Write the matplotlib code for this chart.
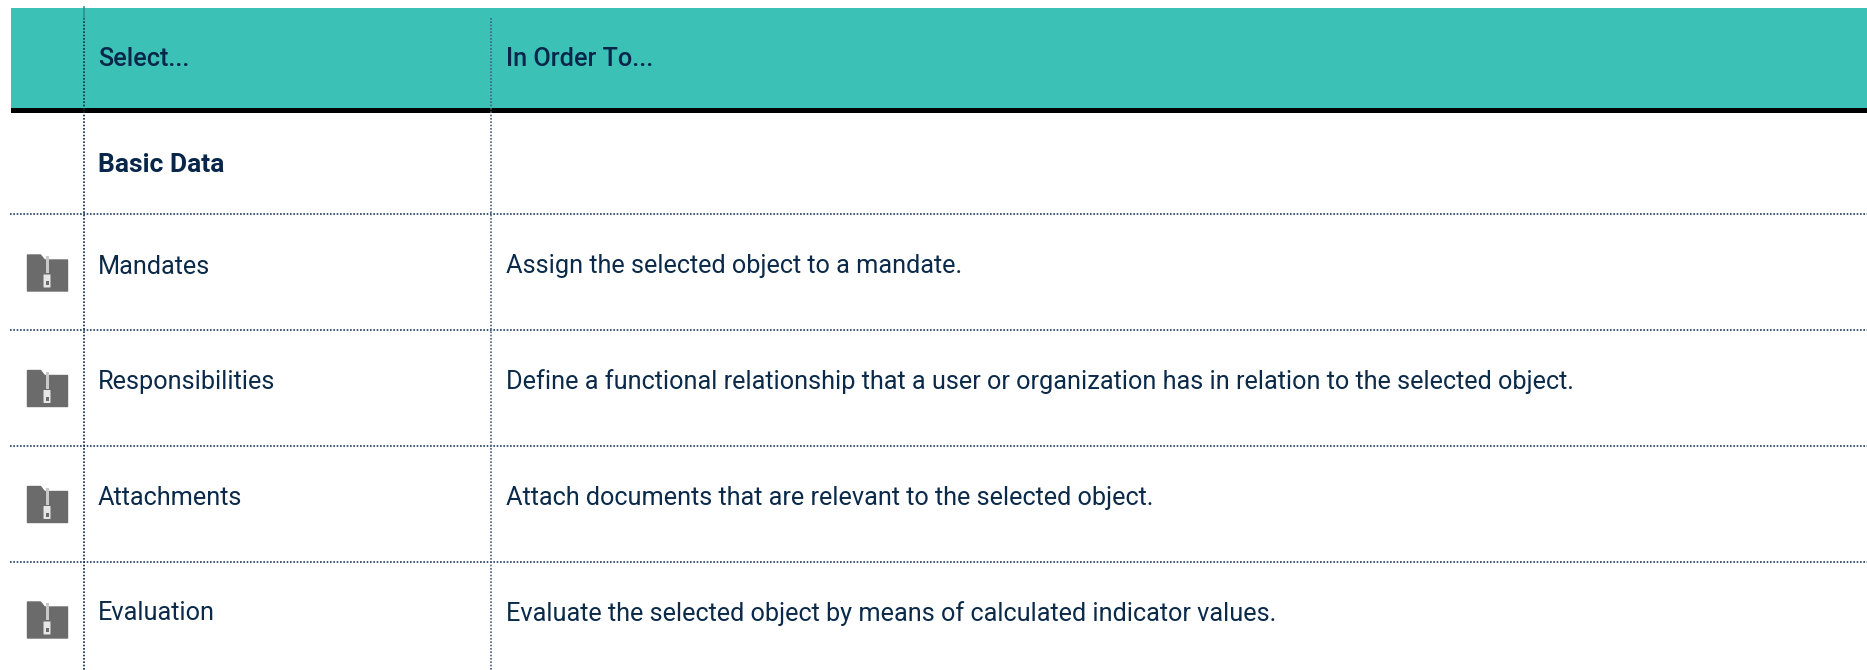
import matplotlib
matplotlib.use("Agg")
import matplotlib.pyplot as plt
from matplotlib.patches import Polygon, Rectangle, FancyBboxPatch

W, H = 1867, 670
TEAL = "#3cc1b7"
NAVY = "#0b2a4a"
ICON = "#6b6b6b"

headers = ["Select...", "In Order To..."]
section = "Basic Data"
selects = ["Mandates", "Responsibilities", "Attachments", "Evaluation"]
purposes = [
    "Assign the selected object to a mandate.",
    "Define a functional relationship that a user or organization has in relation to the selected object.",
    "Attach documents that are relevant to the selected object.",
    "Evaluate the selected object by means of calculated indicator values.",
]

# layout in pixels
col_x = [83.5, 491]
col_text = [98, 506]
row_lines = [214, 330, 445.5, 561.5]
row_base = [273.5, 389.5, 505, 620.5]
icon_mid = [273, 388.5, 504.5, 620]

plt.rcParams["font.family"] = ["Roboto", "DejaVu Sans"]

fig = plt.figure(figsize=(W / 100, H / 100), dpi=100)
ax = fig.add_axes([0, 0, 1, 1])
ax.set_xlim(0, W)
ax.set_ylim(H, 0)
ax.axis("off")

# header band and the thick rule below it
ax.add_patch(Rectangle((11, 8), W - 11, 100, fc=TEAL, ec="none", zorder=1))
ax.add_patch(Rectangle((11, 108), W - 11, 5, fc="black", ec="none", zorder=2))

dots = (0, (1, 1))
for y in row_lines:
    ax.plot([10, W], [y, y], color="#1f3c5f", lw=1.2, ls=dots, zorder=3)
ax.plot([col_x[0]] * 2, [18, H], color=NAVY, lw=1.2, ls=dots, zorder=3)
ax.plot([col_x[1]] * 2, [18, H], color="#476080", lw=1.2, ls=dots, zorder=3)
# the first rule fades out above the header text
ax.plot([col_x[0]] * 2, [7, 18], color="#2f8f95", lw=1.2, zorder=3)

for x, label in zip(col_text, headers):
    ax.text(x, 66, label, fontsize=18.2, fontweight="medium", color="#07264a", va="baseline")
ax.text(col_text[0], 171.5, section, fontsize=19, fontweight="bold", color="#07264a", va="baseline")


def draw_icon(cy):
    # zipped folder glyph
    left, right = 27.5, 67.5
    top, bot = cy - 18, cy + 18
    ax.add_patch(Polygon(
        [(left, top), (left + 13, top), (left + 17, top + 5), (right, top + 5),
         (right, bot), (left, bot)],
        closed=True, fc=ICON, ec=ICON, lw=1, joinstyle="round", zorder=4))
    mid = left + 19.5
    ax.add_patch(Rectangle((mid - 1.5, top + 1), 3, 17, fc="#c9c9c9", ec="none", zorder=5))
    ax.add_patch(FancyBboxPatch((mid - 3, top + 20), 6, 12, boxstyle="round,pad=0.5",
                                fc="#e6e6e6", ec="none", zorder=5))
    ax.add_patch(Rectangle((mid - 1.5, top + 26), 3, 4, fc=ICON, ec="none", zorder=6))


for i, name in enumerate(selects):
    ax.text(col_text[0], row_base[i], name, fontsize=18.2, color=NAVY, va="baseline")
    ax.text(col_text[1], row_base[i], purposes[i], fontsize=18.2, color=NAVY, va="baseline")
    draw_icon(icon_mid[i])

fig.savefig("out.png", dpi=100, facecolor="white")
